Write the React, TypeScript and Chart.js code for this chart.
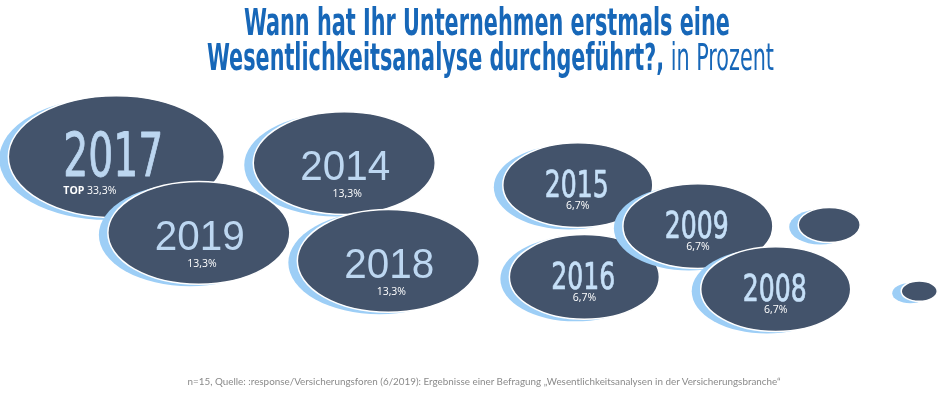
import React, { useEffect, useRef } from 'react';
import { Chart, registerables } from 'chart.js';

Chart.register(...registerables);

// ---- data ----
const years = ['2017', '2014', '2015', '2016', '2019', '2018', '2009', '2008', '', ''];
const shares: (number | null)[] = [33.3, 13.3, 6.7, 6.7, 13.3, 13.3, 6.7, 6.7, null, null];
const xValues = [12.4, 36.7, 61.6, 62.3, 21.2, 41.4, 74.4, 82.7, 88.4, 98.0];
const yValues = [60.2, 58.6, 53.0, 29.7, 40.9, 33.8, 42.6, 26.6, 42.9, 26.1];
const bubbleSizes = [108, 91, 75, 75, 91, 91, 75, 75, 31, 18];
const topPrefix = 'TOP';

const titleLine1 = 'Wann hat Ihr Unternehmen erstmals eine';
const titleLine2Bold = 'Wesentlichkeitsanalyse durchgeführt?,';
const titleLine2Light = ' in Prozent';
const footerText =
  'n=15, Quelle: :response/Versicherungsforen (6/2019): Ergebnisse einer Befragung \u201EWesentlichkeitsanalysen in der Versicherungsbranche\u201C';

// ---- styles ----
const SHADOW = '#9dcef6';
const DARK = '#43536b';
const NARROW = '"Liberation Sans Narrow", "DejaVu Sans Condensed", sans-serif';
const REGULAR = '"Liberation Sans", "DejaVu Sans", sans-serif';
const LABEL_FONT = '"Open Sans", "Noto Sans", sans-serif';

function tier(share: number) {
  if (share >= 30)
    return { family: NARROW, size: 61, targetW: 100, dx: -3, base: 19, pctDy: 34, pctDx: -53, left: true, weight: 0.9, color: '#bcd6f0' };
  if (share >= 10)
    return { family: REGULAR, size: 42, targetW: 90, dx: 1, base: 17, pctDy: 31, pctDx: 3, left: false, weight: 0, color: '#bdd7f1' };
  return { family: NARROW, size: 37.5, targetW: 64, dx: -1, base: 12, pctDy: 21, pctDx: 0, left: false, weight: 0.7, color: '#c6e0f8' };
}

function fitText(ctx: CanvasRenderingContext2D, text: string, cx: number, baseline: number, targetW: number, weight: number) {
  const w = ctx.measureText(text).width;
  const sx = w > 0 ? targetW / w : 1;
  ctx.save();
  ctx.translate(cx, baseline);
  ctx.scale(sx, 1);
  ctx.textAlign = 'center';
  ctx.textBaseline = 'alphabetic';
  ctx.fillText(text, 0, 0);
  if (weight > 0) {
    ctx.strokeStyle = ctx.fillStyle as string;
    ctx.lineWidth = weight;
    ctx.lineJoin = 'round';
    ctx.strokeText(text, 0, 0);
  }
  ctx.restore();
}

const ellipsePlugin = {
  id: 'ellipseBubbles',
  afterDatasetsDraw(chart: any) {
    const ctx: CanvasRenderingContext2D = chart.ctx;
    const meta = chart.getDatasetMeta(0);
    meta.data.forEach((el: any, i: number) => {
      const raw = chart.data.datasets[0].data[i] as any;
      const x = el.x;
      const y = el.y;
      const rx = raw.size;
      const ry = rx * 0.565;
      ctx.save();
      // shadow
      ctx.fillStyle = SHADOW;
      ctx.beginPath();
      ctx.ellipse(x - 9, y + 2, rx, ry, 0, 0, Math.PI * 2);
      ctx.fill();
      // body
      ctx.fillStyle = DARK;
      ctx.strokeStyle = '#ffffff';
      ctx.lineWidth = 1.5;
      ctx.beginPath();
      ctx.ellipse(x, y, rx, ry, 0, 0, Math.PI * 2);
      ctx.fill();
      ctx.stroke();

      const share = shares[i];
      const year = years[i];
      if (share != null && year) {
        const t = tier(share);
        ctx.fillStyle = t.color;
        ctx.font = `${t.size}px ${t.family}`;
        fitText(ctx, year, x + t.dx, y + t.base, t.targetW, t.weight);

        const pct = share.toFixed(1).replace('.', ',') + '%';
        ctx.fillStyle = '#ffffff';
        ctx.textBaseline = 'middle';
        if (t.left) {
          ctx.textAlign = 'left';
          ctx.font = `bold 10.5px ${LABEL_FONT}`;
          const pre = topPrefix + ' ';
          const lx = x + t.pctDx;
          ctx.fillText(pre, lx, y + t.pctDy);
          const pw = ctx.measureText(pre).width;
          ctx.font = `10.5px ${LABEL_FONT}`;
          ctx.fillText(pct, lx + pw, y + t.pctDy);
        } else {
          ctx.textAlign = 'center';
          ctx.font = `10.5px ${LABEL_FONT}`;
          ctx.fillText(pct, x + t.pctDx, y + t.pctDy);
        }
      }
      ctx.restore();
    });
  },
};

function fitLine(el: HTMLElement | null, target: number) {
  if (!el) return;
  el.style.transform = 'none';
  const w = el.getBoundingClientRect().width;
  if (w > 0) el.style.transform = `scaleX(${target / w})`;
}

export default function App() {
  const canvasRef = useRef<HTMLCanvasElement>(null);
  const l1 = useRef<HTMLSpanElement>(null);
  const l2 = useRef<HTMLSpanElement>(null);
  const ft = useRef<HTMLSpanElement>(null);

  useEffect(() => {
    document.body.style.margin = '0';
    const doFit = () => {
      fitLine(l1.current, 486);
      fitLine(l2.current, 567);
      fitLine(ft.current, 593);
    };
    doFit();
    (document as any).fonts?.ready?.then(doFit);

    const chart = new Chart(canvasRef.current!, {
      type: 'bubble',
      data: {
        datasets: [
          {
            // r is kept at 0 so Chart.js adds no overflow padding; the ellipse size is drawn by the plugin
            data: years.map((_, i) => ({ x: xValues[i], y: yValues[i], r: 0, size: bubbleSizes[i] })),
            backgroundColor: 'rgba(0,0,0,0)',
            borderColor: 'rgba(0,0,0,0)',
            borderWidth: 0,
            hoverRadius: 0,
            radius: 0,
          },
        ],
      },
      options: {
        animation: false,
        responsive: true,
        maintainAspectRatio: false,
        events: [],
        layout: { padding: 0 },
        plugins: {
          legend: { display: false },
          tooltip: { enabled: false },
          title: { display: false },
        },
        scales: {
          x: { type: 'linear', min: 0, max: 100, display: false },
          y: { type: 'linear', min: 0, max: 100, display: false },
        },
      },
      plugins: [ellipsePlugin as any],
    });
    return () => chart.destroy();
  }, []);

  return (
    <div style={{ position: 'relative', width: 938, height: 394, overflow: 'hidden', background: '#fff' }}>
      <canvas ref={canvasRef} style={{ position: 'absolute', left: 0, top: 0 }} />
      <div
        style={{
          position: 'absolute',
          left: 36,
          right: 0,
          top: 5,
          textAlign: 'center',
          color: '#1767b8',
          fontFamily: NARROW,
          fontSize: 37,
          lineHeight: '35px',
          whiteSpace: 'nowrap',
        }}
      >
        <div>
          <span ref={l1} style={{ display: 'inline-block', fontWeight: 'bold', transformOrigin: 'center' }}>
            {titleLine1}
          </span>
        </div>
        <div>
          <span ref={l2} style={{ display: 'inline-block', transformOrigin: 'center' }}>
            <span style={{ fontWeight: 'bold' }}>{titleLine2Bold}</span>
            <span style={{ fontWeight: 'normal' }}>{titleLine2Light}</span>
          </span>
        </div>
      </div>
      <div
        style={{
          position: 'absolute',
          left: 30,
          right: 0,
          top: 375,
          textAlign: 'center',
          color: '#8a8a8a',
          fontFamily: 'Lato, "Open Sans", sans-serif',
          fontSize: 10,
          lineHeight: '12px',
          whiteSpace: 'nowrap',
        }}
      >
        <span ref={ft} style={{ display: 'inline-block', transformOrigin: 'center' }}>
          {footerText}
        </span>
      </div>
    </div>
  );
}
